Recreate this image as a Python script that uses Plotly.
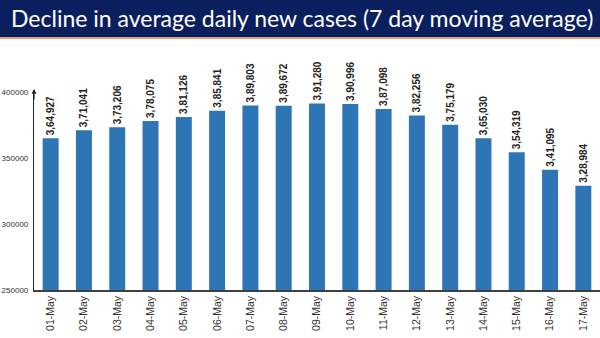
import plotly.graph_objects as go

# Seven-day moving average of daily new cases, 1-17 May
dates = ["01-May", "02-May", "03-May", "04-May", "05-May", "06-May", "07-May",
         "08-May", "09-May", "10-May", "11-May", "12-May", "13-May", "14-May",
         "15-May", "16-May", "17-May"]
cases = [364927, 371041, 373206, 378075, 381126, 385841, 389803, 389672,
         391280, 390996, 387098, 382256, 375179, 365030, 354319, 341095, 328984]
y_ticks = [250000, 300000, 350000, 400000]


def indian_format(n):
    s = str(n)
    last3, rest = s[-3:], s[:-3]
    groups = []
    while len(rest) > 2:
        groups.insert(0, rest[-2:])
        rest = rest[:-2]
    if rest:
        groups.insert(0, rest)
    return ",".join(groups + [last3])


labels = [indian_format(v) for v in cases]

W, H = 600, 338
M_L, M_R, M_T, M_B = 34, 0, 92, 48
plot_h = H - M_T - M_B


def py(px):
    # pixel row (from top) -> paper y coordinate
    return (H - M_B - px) / plot_h


fig = go.Figure()
fig.add_trace(go.Bar(
    x=dates, y=cases,
    marker=dict(color="#2e75b6", line=dict(width=0)),
    text=labels, textposition="outside", textangle=-90,
    textfont=dict(family="Liberation Sans", size=10, color="#222222"),
    texttemplate="<b>%{text}</b>",
    cliponaxis=False,
))

fig.update_layout(
    width=W, height=H,
    margin=dict(l=M_L, r=M_R, t=M_T, b=M_B),
    paper_bgcolor="white", plot_bgcolor="white",
    showlegend=False,
    bargap=0.52,
    uniformtext=dict(minsize=10, mode="show"),
    xaxis=dict(
        range=[-0.5, 16.5], showgrid=False, zeroline=False,
        showline=True, linecolor="#404040", linewidth=1.5,
        tickangle=-90, ticks="",
        tickfont=dict(family="Liberation Sans", size=10.5, color="#333333"),
        automargin=False,
    ),
    yaxis=dict(
        range=[250000, 400000], tickvals=y_ticks,
        ticktext=[str(v) for v in y_ticks],
        showgrid=False, zeroline=False,
        showline=True, linecolor="#202020", linewidth=1.2,
        ticks="", ticklabelstandoff=3,
        tickfont=dict(family="Liberation Sans", size=8, color="#333333"),
        automargin=False,
    ),
    shapes=[
        # title banner
        dict(type="rect", xref="paper", yref="paper",
             x0=-M_L / (W - M_L - M_R), x1=1.01, y0=py(37), y1=py(0),
             fillcolor="#0b1f5e", line=dict(width=0), layer="above"),
        # thin orange rule under the banner
        dict(type="rect", xref="paper", yref="paper",
             x0=-M_L / (W - M_L - M_R), x1=1.01, y0=py(39), y1=py(37),
             fillcolor="#e8a27a", line=dict(width=0), layer="above"),
    ],
    annotations=[
        dict(text="Decline in average daily new cases (7 day moving average)",
             xref="paper", yref="paper", x=(W / 2 + 2 - M_L) / (W - M_L), y=py(18),
             xanchor="center", yanchor="middle", showarrow=False,
             font=dict(family="Lato", size=23, color="white")),
        # arrowhead at the top of the y axis
        dict(xref="paper", yref="paper", x=0, y=py(89), ax=0, ay=12,
             axref="pixel", ayref="pixel", text="", showarrow=True,
             arrowhead=2, arrowsize=0.8, arrowwidth=1.2, arrowcolor="#202020"),
    ],
)

fig.write_html("out.html")
